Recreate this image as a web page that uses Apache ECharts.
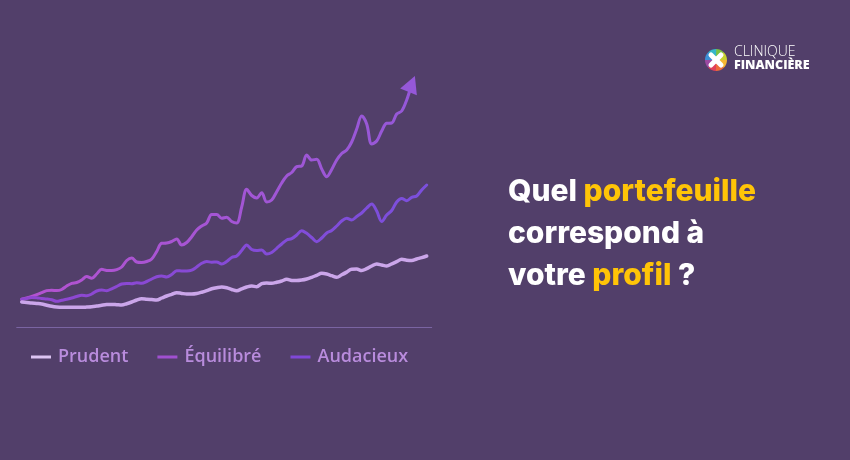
<!DOCTYPE html>
<html>
<head>
<meta charset="utf-8">
<script src="https://cdn.jsdelivr.net/npm/echarts@6/dist/echarts.min.js"></script>
<style>
html,body{margin:0;padding:0;background:#523F6A;}
#c{width:850px;height:460px;}
</style>
</head>
<body>
<div id="c"></div>
<script>
// Series values (index = period)
const seriesNames = ['Prudent', 'Équilibré', 'Audacieux'];
const prudent = [25,24.5,23.9,23.5,23,21.8,20.7,20,19.7,19.7,19.7,19.7,19.7,19.9,20.2,20.9,21.7,22.4,22.6,22.3,
  22,23.3,25,27,28.3,27.8,27.4,27,29,31,32.7,34.3,33.6,33,33,33.5,34.8,36.4,38.2,39.3,
  40,39.2,37.5,36.3,38.1,40,41,40.3,43.3,44,43.7,44.7,46,47.7,46.6,46.4,46.9,48,49.7,51.7,
  53.7,53,51.3,49.7,52.2,54.9,57.8,57.9,56.5,58.3,61,63,62,61,63.1,65.3,67.7,66.8,66.5,68,
  69.4,71];
const equilibre = [27.7,28.6,29.5,29.3,28.5,28,27.2,25.7,26.7,27.7,29,30.5,31.8,31.2,33,36,37,36.3,38.2,40.5,
  43,43.5,43.3,44.3,43.8,45.5,48,50.3,51,50,52.5,56.3,56,55.9,56.8,60,63.7,65.5,64.8,65,
  63,65.5,69.5,71,76.5,82,77.5,76.5,77,73,74.5,78.7,83,87,88.3,92,96.3,93.7,89.5,85.3,
  89,94,96.5,101,106,108.7,107,110.5,114,119,123,116,105.5,112,116.5,125,128.5,126.3,129.7,131,
  137,142];
const audacieux = [27.7,29.1,30.5,32.4,34.4,36.4,36.8,36.4,37.5,41,43.7,44.5,47,50.5,48.7,53,57.7,56.6,56.5,57.4,
  60,66.5,69,65,64.5,65.5,68,75.5,83.7,84,85.5,88,82,84.5,90.3,97,101,104,112.5,112.5,
  108.7,109.7,105.5,104,120,137.7,131.5,129,134.3,125,127,135.3,144,151,154.5,160.3,161,172,167,167.7,
  158,150.3,157.5,167,173.5,177,185,198,211,203,183,186,196,203.7,204,213,216,227,243];
const titleLines = ['Quel ', 'portefeuille', 'correspond à', 'votre ', 'profil', ' ?'];
const logoLines = ['CLINIQUE', 'FINANCIÈRE'];

const toPairs = arr => arr.map((v, i) => [i, v]);
const audData = toPairs(audacieux);
audData[audData.length - 1] = {
  value: audData[audData.length - 1],
  symbol: 'triangle', symbolSize: [18, 17], symbolRotate: -22,
  itemStyle: { color: '#9558D8' }
};

const grad = (a, b) => ({ type: 'linear', x: 0, y: 0, x2: 1, y2: 0, colorStops: [{ offset: 0, color: a }, { offset: 1, color: b }] });

const chart = echarts.init(document.getElementById('c'), null, { renderer: 'canvas' });

// logo ring sectors
const ringColors = ['#7CC242', '#C7D12F', '#F6B733', '#EE6B3A', '#E0405A', '#9B4AA2', '#3C8FD6', '#35B7C9'];
const logoEls = ringColors.map((c, k) => ({
  type: 'sector', silent: true,
  shape: { cx: 716, cy: 60, r0: 0, r: 11, startAngle: -Math.PI / 2 + k * Math.PI / 4, endAngle: -Math.PI / 2 + (k + 1) * Math.PI / 4 + 0.02 },
  style: { fill: c }
}));
logoEls.push(
  { type: 'line', silent: true, shape: { x1: 711, y1: 55, x2: 721, y2: 65 }, style: { stroke: '#fff', lineWidth: 5, lineCap: 'round' } },
  { type: 'line', silent: true, shape: { x1: 711, y1: 65, x2: 721, y2: 55 }, style: { stroke: '#fff', lineWidth: 5, lineCap: 'round' } },
  { type: 'text', silent: true, left: 734, top: 45, style: { text: logoLines[0], fill: '#FFFFFF', font: '300 14px "Open Sans"' } },
  { type: 'text', silent: true, left: 734, top: 59, style: { text: logoLines[1], fill: '#FFFFFF', font: '800 12.5px "Open Sans"' } }
);

chart.setOption({
  backgroundColor: '#523F6A',
  animation: false,
  title: {
    left: 508, top: 171, padding: 0,
    text: '{w|' + titleLines[0] + '}{y|' + titleLines[1] + '}\n{w|' + titleLines[2] + '}\n{w|' + titleLines[3] + '}{y|' + titleLines[4] + '}{w|' + titleLines[5] + '}',
    textStyle: {
      rich: {
        w: { color: '#FFFFFF', fontFamily: 'Inter', fontWeight: 800, fontSize: 30, lineHeight: 42 },
        y: { color: '#FFC407', fontFamily: 'Inter', fontWeight: 800, fontSize: 30, lineHeight: 42 }
      }
    }
  },
  legend: {
    left: 31, top: 348, padding: 0,
    itemWidth: 20, itemHeight: 3, itemGap: 29,
    icon: 'rect',
    textStyle: { color: '#B98CDD', fontSize: 18, fontFamily: 'Open Sans', fontWeight: 600, padding: [0, 0, 0, 2] },
    data: [
      { name: seriesNames[0], itemStyle: { color: '#DCC4F2' } },
      { name: seriesNames[1], itemStyle: { color: '#A050D0' } },
      { name: seriesNames[2], itemStyle: { color: '#8048D8' } }
    ]
  },
  grid: { left: 16.7, right: 418.3, top: 67, bottom: 133 },
  xAxis: {
    type: 'value', min: -1, max: 82,
    axisLine: { show: true, onZero: false, lineStyle: { color: '#7A64A2', width: 1 } },
    axisTick: { show: false }, axisLabel: { show: false }, splitLine: { show: false }
  },
  yAxis: {
    type: 'value', min: 0, max: 260, show: false, splitLine: { show: false }
  },
  series: [
    {
      name: seriesNames[0], type: 'line', smooth: 0.35, symbol: 'none', z: 3,
      lineStyle: { width: 3.5, color: '#CBA6EA', cap: 'round' },
      data: toPairs(prudent)
    },
    {
      name: seriesNames[1], type: 'line', smooth: 0.35, symbol: 'none', z: 2,
      lineStyle: { width: 3, color: grad('#9046D0', '#7B4FDD'), cap: 'round' },
      data: toPairs(equilibre)
    },
    {
      name: seriesNames[2], type: 'line', smooth: 0.35, symbol: 'none', showSymbol: true, z: 1,
      lineStyle: { width: 3, color: grad('#B452D0', '#9558D8'), cap: 'round' },
      data: audData
    }
  ],
  graphic: logoEls
});
</script>
</body>
</html>
